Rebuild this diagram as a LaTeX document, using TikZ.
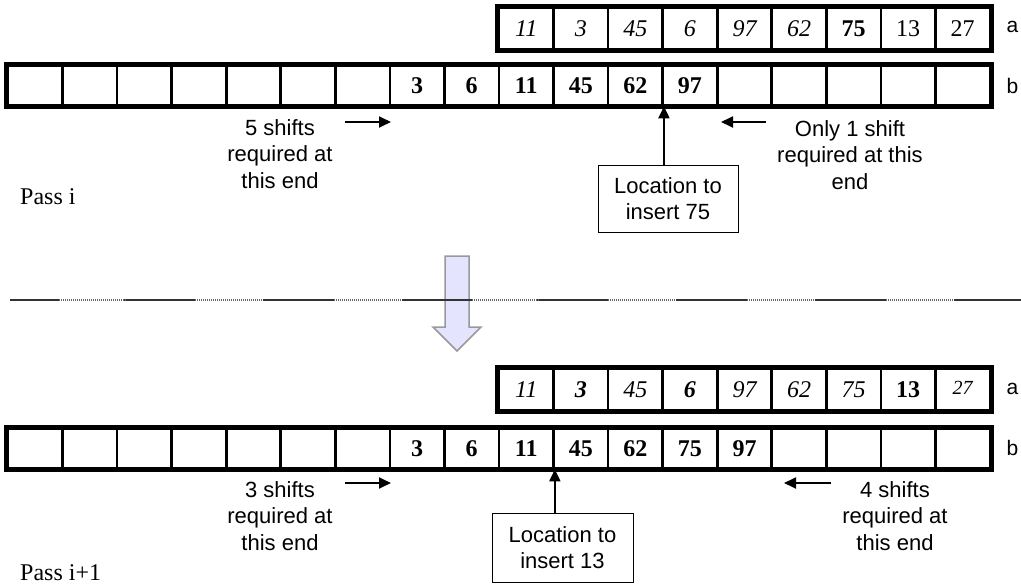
\documentclass[tikz,border=0pt]{standalone}
\usepackage{fontspec}
\setmainfont{Liberation Serif}
\newfontfamily\labelfont{Liberation Sans}
\usetikzlibrary{arrows.meta}

\begin{document}
\begin{tikzpicture}[x=1pt,y=-1pt,
  cell/.style={draw, line width=2.6pt, minimum width=54.56pt, inner sep=0pt,
    font=\fontsize{24}{26}\selectfont},
  rowa/.style={cell, minimum height=41pt},
  rowb/.style={cell, minimum height=39pt},
  frame/.style={line width=5pt},
  note/.style={font=\labelfont\fontsize{22}{26.5}\selectfont, align=center},
  callout/.style={note, draw, line width=1pt, inner sep=0pt},
  shiftarrow/.style={line width=1.8pt, -{Triangle[length=12pt,width=11pt]}},
  tag/.style={font=\labelfont\fontsize{21}{24}\selectfont},
  passlabel/.style={font=\fontsize{24}{28}\selectfont, anchor=west, inner sep=0pt},
  solidseg/.style={line width=1.4pt, black!80},
  dotseg/.style={line width=1.4pt, black!60, dash pattern=on 1pt off 1pt},
]
\useasboundingbox (0,0) rectangle (1021,586);

% ---------------- Pass i ----------------
\foreach \t [count=\i] in {\itshape 11,\itshape 3,\itshape 45,\itshape 6,
    \itshape 97,\itshape 62,\bfseries 75,13,27}
  \node[rowa] (ta\i) at ({8+54.556*(\i+8.5)},28.5) {\t};
\draw[frame] (ta1.north west) rectangle (ta9.south east);
\node[tag, anchor=west] (tla) at (1003,27) {a};

\foreach \t [count=\i] in {{},{},{},{},{},{},{},\bfseries 3,\bfseries 6,
    \bfseries 11,\bfseries 45,\bfseries 62,\bfseries 97,{},{},{},{},{}}
  \node[rowb] (tb\i) at ({8+54.556*(\i-0.5)},85.5) {\t};
\draw[frame] (tb1.north west) rectangle (tb18.south east);
\node[tag, anchor=west] (tlb) at (1003,86) {b};

\node[note] (tleft) at (280,154) {5 shifts\\required at\\this end};
\node[note] (tright) at (850,155) {Only 1 shift\\required at this\\end};
\coordinate (tl1) at (345,122); \coordinate (tl2) at (391,122);
\coordinate (tr1) at (766,122); \coordinate (tr2) at (721,122);
\draw[shiftarrow] (tl1) -- (tl2);
\draw[shiftarrow] (tr1) -- (tr2);

\node[callout, minimum width=140pt, minimum height=67pt] (tloc) at (668,198.5)
  {Location to\\insert 75};
\draw[shiftarrow] (tb12.south east |- tloc.north) -- (tb12.south east);

\node[passlabel] (tpass) at (20,197) {Pass i};

% ---------------- transition ----------------
\draw[fill={rgb,255:red,228;green,228;blue,255}, draw=black!40, line width=1.5pt,
  line join=miter]
  (445,256) -- (469,256) -- (469,327) -- (481,327) -- (457,351)
  -- (433,327) -- (445,327) -- cycle;

\draw[solidseg] (10,300) -- (59,300);
\foreach \s in {124,263,402,537,676,815,954}
  \draw[solidseg] (\s,300) -- ({min(\s+71,1021)},300);
\foreach \s in {59,195,334,472,608,747,886}
  \draw[dotseg] (\s,300) -- ({\s+67},300);

% ---------------- Pass i+1 ----------------
\foreach \t [count=\i] in {\itshape 11,\bfseries\itshape 3,\itshape 45,
    \bfseries\itshape 6,\itshape 97,\itshape 62,\itshape 75,\bfseries 13,
    \raisebox{3pt}{\fontsize{20}{22}\selectfont\itshape 27}}
  \node[rowa] (ba\i) at ({8+54.556*(\i+8.5)},389.5) {\t};
\draw[frame] (ba1.north west) rectangle (ba9.south east);
\node[tag, anchor=west] (bla) at (1003,389) {a};

\foreach \t [count=\i] in {{},{},{},{},{},{},{},\bfseries 3,\bfseries 6,
    \bfseries 11,\bfseries 45,\bfseries 62,\bfseries 75,\bfseries 97,{},{},{},{}}
  \node[rowb] (bb\i) at ({8+54.556*(\i-0.5)},448.5) {\t};
\draw[frame] (bb1.north west) rectangle (bb18.south east);
\node[tag, anchor=west] (blb) at (1003,448) {b};

\node[note] (bleft) at (280,516) {3 shifts\\required at\\this end};
\node[note] (bright) at (895,516) {4 shifts\\required at\\this end};
\coordinate (bl1) at (345,483); \coordinate (bl2) at (391,483);
\coordinate (br1) at (831,483); \coordinate (br2) at (784,483);
\draw[shiftarrow] (bl1) -- (bl2);
\draw[shiftarrow] (br1) -- (br2);

\node[callout, minimum width=141pt, minimum height=69pt] (bloc) at (562.5,547.5)
  {Location to\\insert 13};
\draw[shiftarrow] (bb10.south east |- bloc.north) -- (bb10.south east);

\node[passlabel] (bpass) at (20,573) {Pass i+1};
\end{tikzpicture}
\end{document}
